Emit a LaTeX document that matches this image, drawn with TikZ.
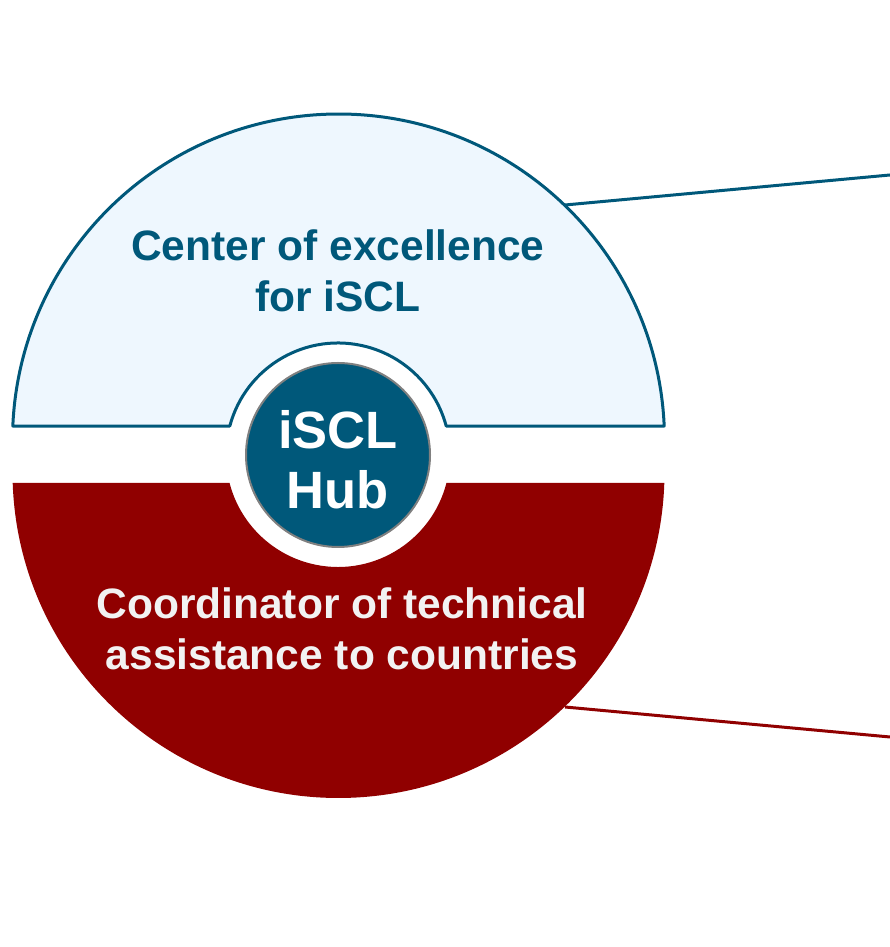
\documentclass[tikz,border=0pt]{standalone}
\usepackage{fontspec}
\setmainfont{Liberation Sans}
\usetikzlibrary{calc}
\definecolor{teal}{HTML}{00587A}
\definecolor{lightfill}{HTML}{EEF7FE}
\definecolor{darkred}{HTML}{900000}
\definecolor{ringgray}{HTML}{808080}
\begin{document}
\begin{tikzpicture}[x=1pt,y=1pt,
  topshape/.style={fill=lightfill,draw=teal,line width=3pt,line join=round},
  botshape/.style={fill=darkred},
  hub/.style={circle,fill=teal,draw=ringgray,line width=2pt,minimum size=184pt,inner sep=0pt},
  bigtext/.style={align=center,font=\fontsize{42.5}{51}\selectfont\bfseries},
  hubtext/.style={align=center,font=\fontsize{52.5}{60}\selectfont\bfseries,text=white},
  link/.style={line width=3pt}]
\useasboundingbox (0,0) rectangle (890,947);
% top half
\path[topshape] ($(338.5,507)+(2.46:326)$) arc[start angle=2.46,end angle=177.54,radius=326]
  -- ($(338,492)+(165:112)$) arc[start angle=165,end angle=15,radius=112] -- cycle;
% bottom half
\path[botshape] ($(338.5,475)+(181.93:326)$) arc[start angle=181.93,end angle=358.07,radius=326]
  -- ($(338,492)+(-14.48:112)$) arc[start angle=-14.48,end angle=-165.52,radius=112] -- cycle;
% hub
\node[hub] (hub) at (338,492) {};
\node[hubtext] (hubt) at (338,487) {iSCL\\Hub};
% texts
\node[bigtext,text=teal] (top) at (338,676) {Center of excellence\\for iSCL};
\node[bigtext,text=white!95!black] (bot) at (342,318) {Coordinator of technical\\assistance to countries};
% connectors
\coordinate (t1) at (565,742);
\coordinate (t2) at (890,772);
\coordinate (b1) at (565,240);
\coordinate (b2) at (890,210);
\draw[link,draw=teal] (t1) -- (t2);
\draw[link,draw=darkred] (b1) -- (b2);
\end{tikzpicture}
\end{document}
